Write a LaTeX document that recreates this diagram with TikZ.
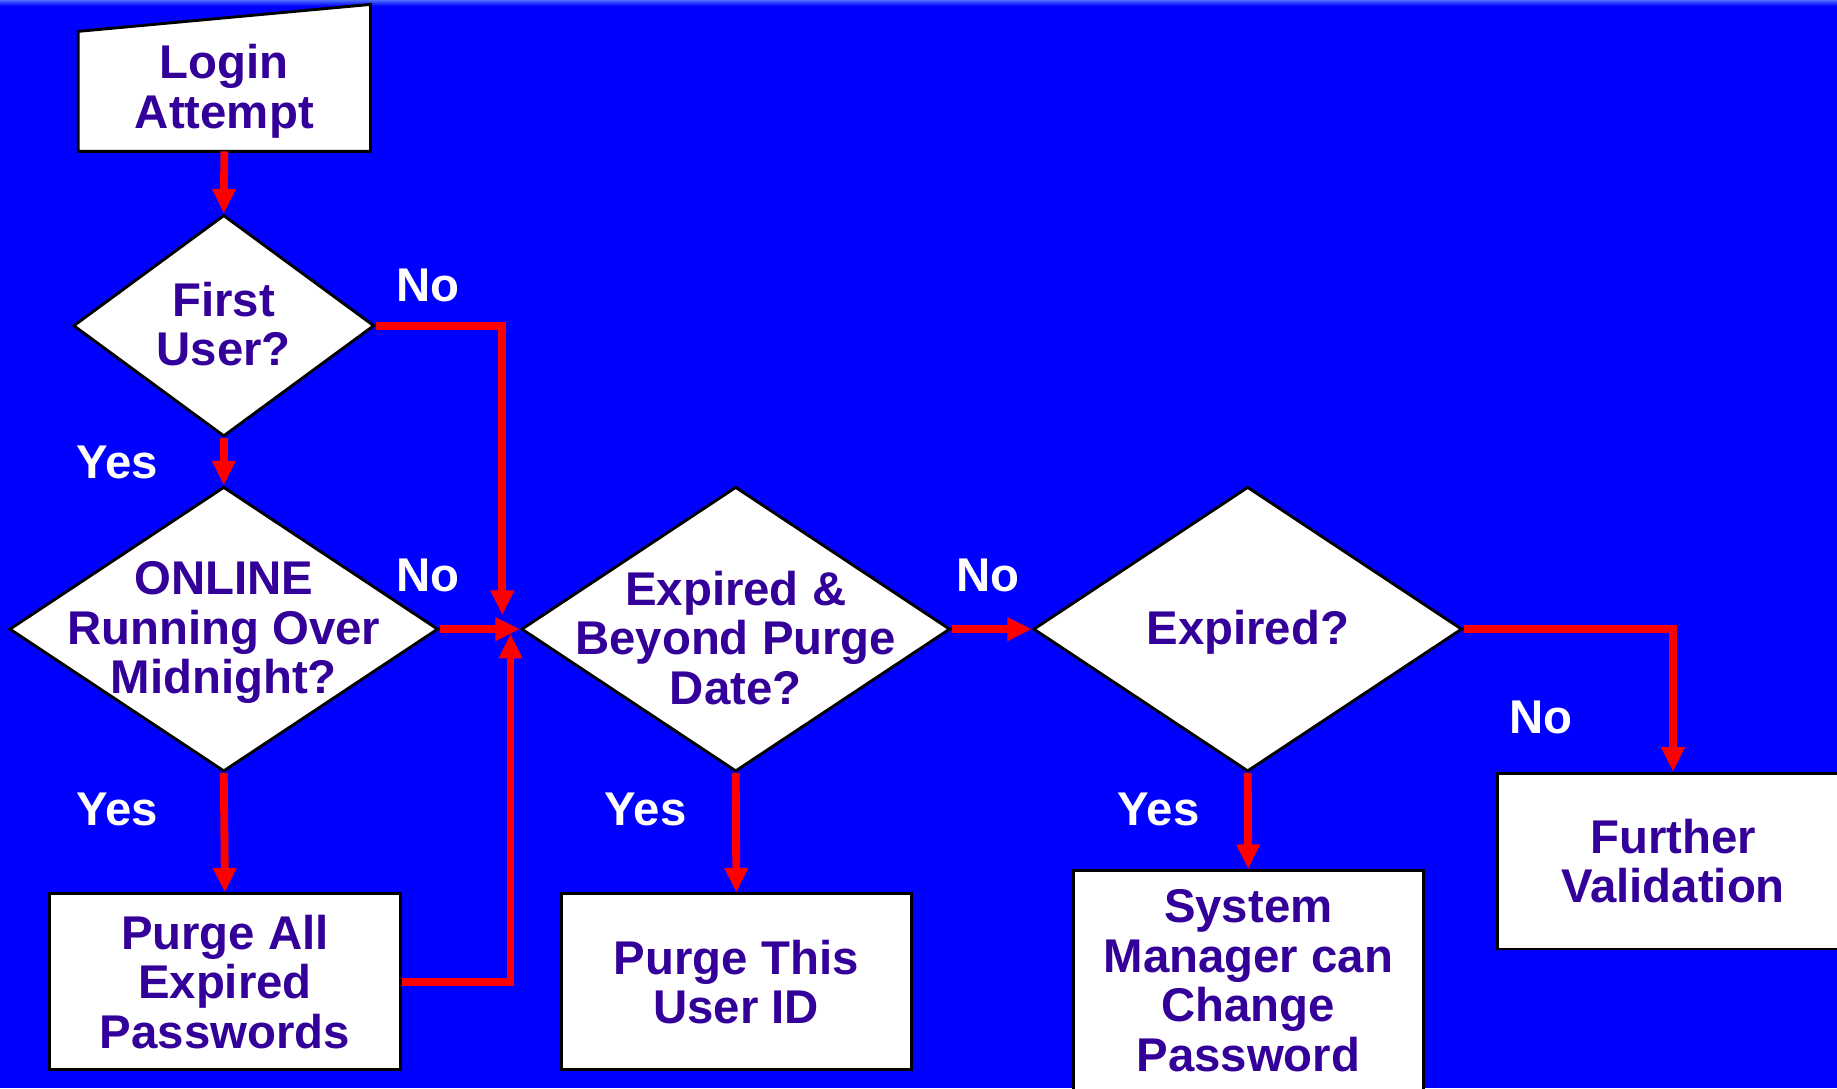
\documentclass[tikz,border=0pt]{standalone}
\usepackage{fontspec}
\setmainfont{Liberation Sans}
\usetikzlibrary{shapes.geometric, arrows.meta, positioning, backgrounds}
\definecolor{clrBack}{HTML}{0000FF}
\definecolor{clrTop}{HTML}{4A6BFF}
\definecolor{clrText}{HTML}{330099}
\definecolor{clrFlow}{HTML}{FF0000}
% text set inside a diamond without widening it
\newcommand{\dtext}[2][0pt]{\smash{\makebox[0pt]{\raisebox{\dimexpr-0.25em-0.05cm+#1\relax}{\begin{tabular}{@{}c@{}}#2\end{tabular}}}}}
\tikzset{
  stepbox/.style = {rectangle, draw=black, fill=white, line width=0.7pt, align=center,
                    font=\bfseries\fontsize{11.5}{12}\selectfont, text=clrText,
                    minimum width=3.0cm, minimum height=1.5cm, inner sep=0pt},
  decision/.style = {diamond, draw=black, fill=white, line width=0.7pt, inner sep=0pt,
                     font=\bfseries\fontsize{11.5}{12}\selectfont, text=clrText,
                     minimum width=3.66cm, minimum height=2.43cm},
  flow/.style = {-{Triangle[width=0.19cm, length=0.21cm]}, draw=clrFlow, line width=1.9pt},
  answer/.style = {font=\bfseries\fontsize{11.5}{12}\selectfont, text=white},
}

\begin{document}
\begin{tikzpicture}
  % column centres and rows
  \def\colA{1.91}
  \def\colB{6.28}
  \def\colC{10.65}
  \def\colD{14.28}
  \def\yMid{-5.37}
  \def\yBox{-8.38}

  \useasboundingbox (0,0) rectangle (15.68,-9.29);
  \begin{scope}[on background layer]
    \fill[clrBack] (0,0) rectangle (15.68,-9.29);
    \shade[top color=clrTop, bottom color=clrBack] (0,0) rectangle (15.68,-0.05);
  \end{scope}

  % --- Start ---
  \node[stepbox, draw=none, fill=none, minimum width=2.47cm, minimum height=1.0cm]
    at (1.915, -0.78) (login) {Login\\Attempt};
  \begin{scope}[on background layer]
    \filldraw[fill=white, draw=black, line width=0.7pt]
      (login.south west) -- (login.south east) -- ([yshift=0.23cm] login.north east)
      -- (login.north west) -- cycle;
  \end{scope}

  % --- Decisions ---
  \node[decision, minimum width=2.57cm, minimum height=1.89cm] at (\colA, -2.78) (q1)
    {\dtext{First\\User?}};
  \node[decision] at (\colA, \yMid) (q2) {\dtext{ONLINE\\Running Over\\Midnight?}};
  \node[decision] at (\colB, \yMid) (q3) {\dtext[-0.09cm]{Expired \&\\Beyond Purge\\Date?}};
  \node[decision] at (\colC, \yMid) (q4) {\dtext{Expired?}};

  % --- Actions ---
  \node[stepbox] at (1.92, \yBox) (purgeall) {Purge All\\Expired\\Passwords};
  \node[stepbox, minimum width=2.99cm] at (6.285, \yBox) (purgeid) {Purge This\\User ID};
  \node[stepbox, minimum width=2.99cm, minimum height=1.88cm] at (10.655, -8.37) (sysmgr)
    {System\\Manager can\\Change\\Password};
  \node[stepbox] at (\colD, -7.35) (further) {Further\\Validation};

  % --- Connectors ---
  \draw[flow] (login.south) -- (q1.north);
  \draw[flow] (q1.south) -- (q2.north);
  \draw[flow] (q1.east) -| ([xshift=-0.15cm, yshift=0.12cm] q3.west);
  \draw[flow] (q2.east) -- (q3.west);
  \draw[flow] (q2.south) -- (purgeall.north);
  \draw[flow] (purgeall.east) -| ([xshift=-0.08cm, yshift=-0.04cm] q3.west);
  \draw[flow] (q3.east) -- (q4.west);
  \draw[flow] (q3.south) -- (purgeid.north);
  \draw[flow] (q4.south) -- (sysmgr.north);
  \draw[flow] (q4.east) -| (further.north);

  % --- Yes / No ---
  \node[answer] at (3.65, -2.44) (n1) {No};
  \node[answer] at (1.00, -3.95) (y1) {Yes};
  \node[answer] at (3.65, -4.91) (n2) {No};
  \node[answer] at (1.00, -6.91) (y2) {Yes};
  \node[answer] at (5.51, -6.91) (y3) {Yes};
  \node[answer] at (8.43, -4.91) (n3) {No};
  \node[answer] at (9.89, -6.91) (y4) {Yes};
  \node[answer] at (13.15, -6.12) (n4) {No};
\end{tikzpicture}
\end{document}
